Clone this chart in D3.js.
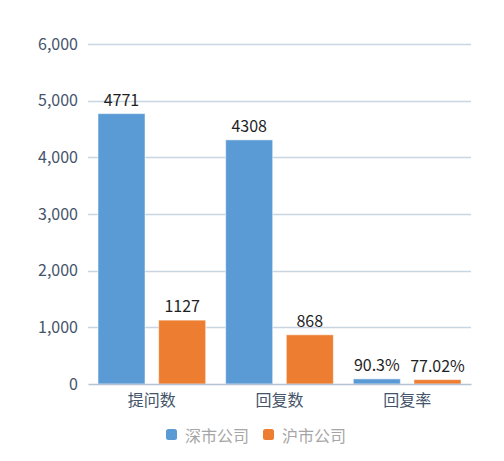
<!DOCTYPE html>
<html>
<head>
<meta charset="utf-8">
<script src="https://cdn.jsdelivr.net/npm/d3@7"></script>
<style>
  html, body { margin: 0; padding: 0; background: #fff; }
  svg text { font-family: "Microsoft YaHei", "Noto Sans CJK SC", sans-serif; }
</style>
</head>
<body>
<div id="chart"></div>
<script>
// data
var categories = ['提问数', '回复数', '回复率'];
var seriesNames = ['深市公司', '沪市公司'];
var szValues = [4771, 4308, 90.3];
var shValues = [1127, 868, 77.02];
var szLabels = ['4771', '4308', '90.3%'];
var shLabels = ['1127', '868', '77.02%'];
var yTicks = [0, 1000, 2000, 3000, 4000, 5000, 6000];
var colors = ['#5B9BD5', '#ED7D31'];

(function(){
    var W = 504, H = 461;
    var margin = { top: 44, right: 33, bottom: 77, left: 88 };
    var width = W - margin.left - margin.right;
    var height = H - margin.top - margin.bottom;

    var svg = d3.select('#chart').append('svg')
        .attr('width', W).attr('height', H)
        .append('g')
        .attr('transform', 'translate(' + margin.left + ',' + margin.top + ')');

    var x0 = d3.scaleBand().domain(categories).range([0, width]).paddingInner(0).paddingOuter(0);
    // inner scale for the two bars in each group
    var x1 = d3.scaleBand().domain(seriesNames).range([10, x0.bandwidth() - 10]).paddingInner(0.225);
    var y = d3.scaleLinear().domain([0, 6000]).range([height, 0]);

    // gridlines
    svg.append('g')
        .selectAll('line')
        .data(yTicks.filter(function(d){ return d > 0; }))
        .enter().append('line')
        .attr('x1', 0).attr('x2', width)
        .attr('y1', function(d){ return Math.round(y(d)) + 0.5; })
        .attr('y2', function(d){ return Math.round(y(d)) + 0.5; })
        .attr('stroke', '#C9D6E2').attr('stroke-width', 1.3);

    // y axis labels
    var yAxis = d3.axisLeft(y).tickValues(yTicks).tickSize(0).tickPadding(10)
        .tickFormat(d3.format(','));
    var yg = svg.append('g').call(yAxis);
    yg.select('.domain').remove();
    yg.selectAll('text')
        .style('font-size', '16px')
        .attr('fill', '#44546A');

    var table = categories.map(function(c, i){
        return { cat: c, vals: [
            { key: seriesNames[0], v: szValues[i], label: szLabels[i] },
            { key: seriesNames[1], v: shValues[i], label: shLabels[i] }
        ]};
    });

    var groups = svg.selectAll('.grp').data(table).enter().append('g')
        .attr('transform', function(d){ return 'translate(' + x0(d.cat) + ',0)'; });

    groups.selectAll('rect').data(function(d){ return d.vals; }).enter().append('rect')
        .attr('x', function(d){ return x1(d.key); })
        .attr('width', x1.bandwidth())
        .attr('y', function(d){ return y(d.v); })
        .attr('height', function(d){ return height - y(d.v); })
        .attr('fill', function(d, i){ return colors[i]; })
        .attr('stroke', '#fff').attr('stroke-opacity', 0.5).attr('stroke-width', 1);

    groups.selectAll('text.lbl').data(function(d){ return d.vals; }).enter().append('text')
        .attr('class', 'lbl')
        .attr('x', function(d){ return x1(d.key) + x1.bandwidth() / 2; })
        .attr('y', function(d){ return y(d.v) - 8; })
        .attr('text-anchor', 'middle')
        .style('font-size', '16px')
        .attr('fill', '#1f1f1f')
        .text(function(d){ return d.label; });

    // x axis
    var xAxis = d3.axisBottom(x0).tickSize(0).tickPadding(11);
    var xg = svg.append('g').attr('transform', 'translate(0,' + height + ')').call(xAxis);
    xg.select('.domain').attr('stroke', '#B4C2D2').attr('stroke-width', 1.5);
    xg.selectAll('text')
        .style('font-size', '16px')
        .attr('fill', '#44546A');

    // legend
    var legend = svg.append('g').attr('transform', 'translate(0,' + (height + 51) + ')');
    var legX = [78, 175];
    seriesNames.forEach(function(k, i){
        legend.append('rect')
            .attr('x', legX[i]).attr('y', -6)
            .attr('width', 11).attr('height', 11)
            .attr('rx', 2.5).attr('ry', 2.5)
            .attr('fill', colors[i]);
        legend.append('text')
            .attr('x', legX[i] + 19).attr('y', 0)
            .attr('dominant-baseline', 'central')
            .style('font-size', '16px')
            .attr('fill', '#A6A6A6')
            .text(k);
    });
})();
</script>
</body>
</html>
